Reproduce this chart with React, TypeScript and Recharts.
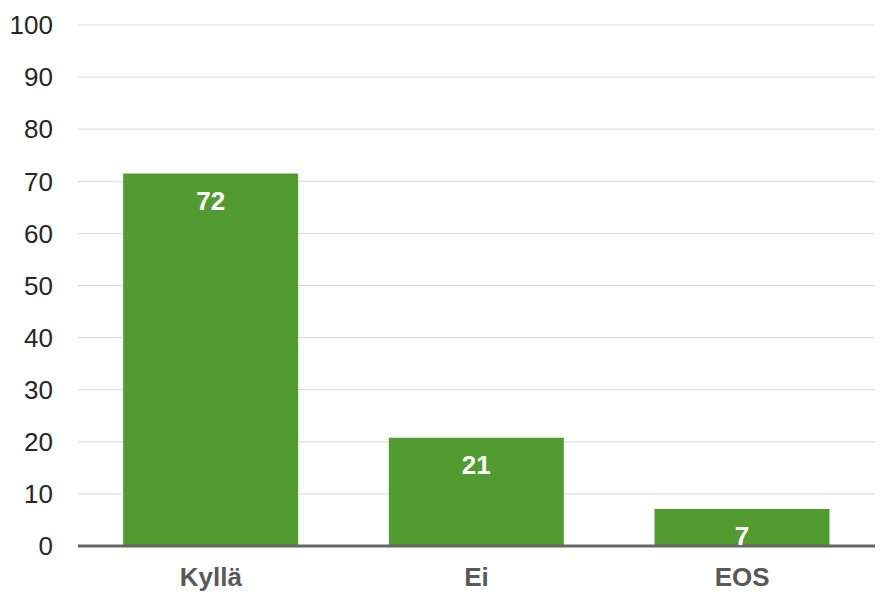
import { BarChart, Bar, XAxis, YAxis, CartesianGrid, LabelList } from 'recharts';

const categories = ['Kyllä', 'Ei', 'EOS'];
const values = [71.5, 20.8, 7.1];
const yTicks = [0, 10, 20, 30, 40, 50, 60, 70, 80, 90, 100];

const data = categories.map((name, i) => ({ name, value: values[i] }));

export default function App() {
  return (
    <div style={{ position: 'absolute', left: 0, top: 0, fontFamily: '"Liberation Sans", Arial, sans-serif' }}>
      <BarChart
        width={882}
        height={592}
        data={data}
        margin={{ top: 25, right: 7, bottom: 0, left: 18 }}
        barCategoryGap="17%"
      >
        <CartesianGrid vertical={false} stroke="#d9d9d9" strokeWidth={1} />
        <XAxis
          dataKey="name"
          height={46}
          axisLine={{ stroke: '#666666', strokeWidth: 3 }}
          tickLine={false}
          tickSize={0}
          tickMargin={22}
          tick={{ fill: '#595959', fontSize: 26, fontWeight: 'bold' }}
        />
        <YAxis
          width={60}
          domain={[0, 100]}
          ticks={yTicks}
          axisLine={false}
          tickLine={false}
          tickSize={0}
          tickMargin={25}
          tick={{ fill: '#262626', fontSize: 26 }}
        />
        <Bar dataKey="value" fill="#529b30" isAnimationActive={false}>
          <LabelList
            dataKey="value"
            position="insideTop"
            offset={18}
            formatter={(v: any) => Math.round(Number(v))}
            style={{ fill: '#ffffff', fontSize: 26, fontWeight: 'bold' }}
          />
        </Bar>
      </BarChart>
    </div>
  );
}
